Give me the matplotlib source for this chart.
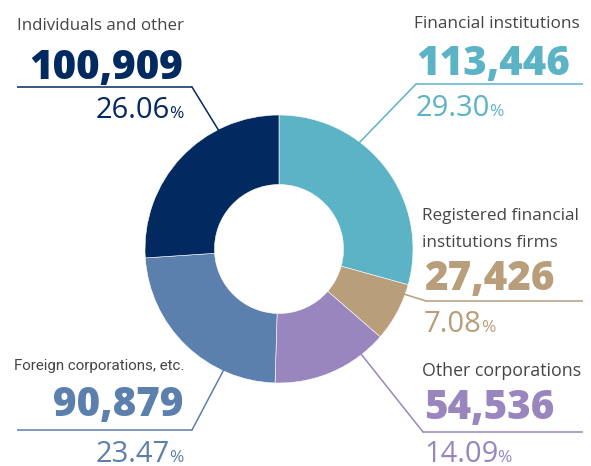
import numpy as np
import matplotlib
matplotlib.use("Agg")
import matplotlib.pyplot as plt

# Shareholder composition (number of shares in thousands, share of total)
categories = ["Financial institutions",
              "Registered financial\ninstitutions firms",
              "Other corporations",
              "Foreign corporations, etc.",
              "Individuals and other"]
shares = [113446, 27426, 54536, 90879, 100909]
percents = [29.30, 7.08, 14.09, 23.47, 26.06]
colors = ["#5db3c6", "#b89e7a", "#9a86bf", "#5b80ad", "#022a60"]

W, H = 591, 466
fig = plt.figure(figsize=(W / 100, H / 100), dpi=100)
ax = fig.add_axes([0, 0, 1, 1])

cx, cy = 279, H - 249
r_out, r_in = 134, 64.5

ax.pie(percents, colors=colors, startangle=90, counterclock=False,
       center=(cx, cy), radius=r_out, frame=True,
       wedgeprops=dict(width=r_out - r_in, linewidth=0.4, edgecolor="white"))
ax.set_xlim(0, W)
ax.set_ylim(0, H)
ax.axis("off")

FONT = "Open Sans"
name_color = "#454545"

# per-label layout in pixel rows from the top
layout = [
    dict(x=416, ha="left", name_x=414, name_y=[28], name_fs=12.4, name_font=FONT,
         num_y=75, pct_y=116, rule_y=84, rx0=416, rx1=583, elbow=416, ang=52.9),
    dict(x=424, ha="left", name_x=422, name_y=[220, 247], name_fs=12.3, name_font=FONT,
         num_y=290, pct_y=332, rule_y=301, rx0=426, rx1=583, elbow=426, ang=-19.8),
    dict(x=424, ha="left", name_x=422, name_y=[376], name_fs=12.8, name_font=FONT,
         num_y=419, pct_y=462, rule_y=432, rx0=423, rx1=583, elbow=423, ang=-52.0),
    dict(x=183, ha="right", name_x=14, name_y=[370], name_fs=10.9, name_font="Roboto",
         num_y=416, pct_y=462, rule_y=430, rx0=17, rx1=192, elbow=192, ang=-114.6),
    dict(x=183, ha="right", name_x=17, name_y=[30], name_fs=12.2, name_font=FONT,
         num_y=79, pct_y=118, rule_y=87, rx0=17, rx1=192, elbow=192, ang=117.0),
]

fig.canvas.draw()
renderer = fig.canvas.get_renderer()
inv = ax.transData.inverted()

for cat, val, pct, col, L in zip(categories, shares, percents, colors, layout):
    for line, ny in zip(cat.split("\n"), L["name_y"]):
        ax.text(L["name_x"], H - ny, line, ha="left", va="baseline",
                fontsize=L["name_fs"], color=name_color, family=L["name_font"])

    ax.text(L["x"], H - L["num_y"], f"{val:,}", ha=L["ha"], va="baseline",
            fontsize=29, fontweight="heavy", color=col, family=FONT)

    # percentage value with a smaller percent sign
    if L["ha"] == "left":
        t = ax.text(L["x"], H - L["pct_y"], f"{pct:.2f}", ha="left",
                    va="baseline", fontsize=21, color=col, family=FONT)
        bb = t.get_window_extent(renderer)
        x_end = inv.transform((bb.x1, bb.y0))[0]
        ax.text(x_end - 1, H - L["pct_y"], "%", ha="left", va="baseline",
                fontsize=12.5, color=col, family=FONT)
    else:
        p = ax.text(L["x"], H - L["pct_y"], "%", ha="right", va="baseline",
                    fontsize=12.5, color=col, family=FONT)
        bb = p.get_window_extent(renderer)
        x_start = inv.transform((bb.x0, bb.y0))[0]
        ax.text(x_start + 1, H - L["pct_y"], f"{pct:.2f}", ha="right",
                va="baseline", fontsize=21, color=col, family=FONT)

    # leader line: horizontal rule, then a diagonal to the ring
    a = np.deg2rad(L["ang"])
    ex, ey = cx + r_out * np.cos(a), cy + r_out * np.sin(a)
    ax.plot([L["rx0"], L["rx1"]], [H - L["rule_y"]] * 2, color=col, lw=1.1,
            solid_capstyle="butt")
    ax.plot([L["elbow"], ex], [H - L["rule_y"], ey], color=col, lw=1.1)

fig.savefig("out.png", dpi=100)
